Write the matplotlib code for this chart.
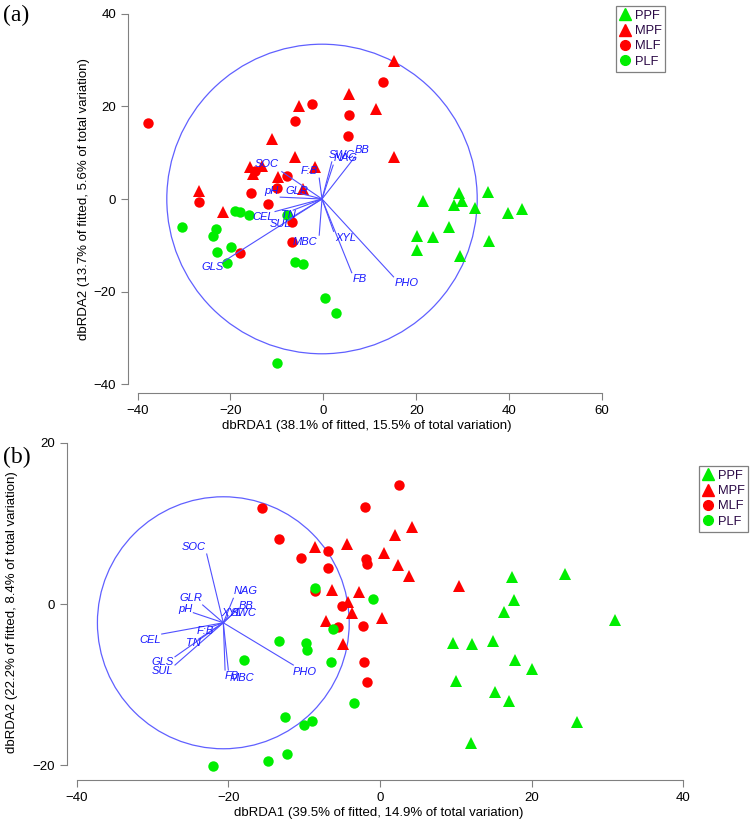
import matplotlib.pyplot as plt
import matplotlib.lines as mlines
from matplotlib.patches import Ellipse

plt.rcParams['font.family'] = ['Liberation Sans', 'DejaVu Sans']

groups = ['PPF', 'MPF', 'MLF', 'PLF']
colors = {'PPF': '#00ee00', 'MPF': '#ff0000', 'MLF': '#ff0000', 'PLF': '#00ee00'}
markers = {'PPF': '^', 'MPF': '^', 'MLF': 'o', 'PLF': 'o'}

# ---------------- panel (a) data ----------------
a_ppf_x = [21.4, 29.1, 28.0, 29.9, 32.7, 35.4, 39.7, 42.8, 20.1, 23.5, 27.1, 20.1, 35.7, 29.4]
a_ppf_y = [-0.4, 1.2, -1.3, -0.4, -2.0, 1.6, -3.1, -2.2, -8.0, -8.3, -6.1, -10.9, -9.0, -12.4]
a_mpf_x = [5.6, -5.2, 11.3, -11.1, -6.2, -15.8, -13.3, -15.1, -9.8, -1.9, -26.7, -21.5, -4.3, 15.1, 15.3]
a_mpf_y = [22.7, 20.1, 19.4, 12.9, 9.1, 6.8, 7.1, 5.5, 4.8, 7.0, 1.7, -2.9, 2.1, 29.8, 9.1]
a_mlf_x = [-37.7, 12.8, -2.5, -6.1, 5.5, 5.2, -14.8, -7.9, -10.0, -15.6, -12.0, -26.8, -6.8, -6.8, -17.9]
a_mlf_y = [16.3, 25.3, 20.4, 16.9, 18.1, 13.7, 6.1, 5.0, 2.4, 1.2, -1.1, -0.6, -5.0, -9.3, -11.6]
a_plf_x = [-19.0, -17.9, -16.1, -7.9, -30.4, -23.2, -23.7, -19.9, -23.0, -20.8, -6.1, -4.3, 0.4, 2.7, -10.0]
a_plf_y = [-2.5, -2.9, -3.5, -3.5, -6.0, -6.5, -7.9, -10.3, -11.4, -13.9, -13.5, -14.1, -21.4, -24.7, -35.3]

a_vec_names = ['SOC', 'F:B', 'SWC', 'NAG', 'BB', 'pH', 'GLR', 'CEL', 'TN', 'SUL', 'GLS', 'MBC', 'XYL', 'FB', 'PHO']
a_vec_x = [-8.95, -0.9, 1.8, 2.1, 6.8, -9.3, -5.0, -10.4, -6.5, -7.2, -21.5, -0.9, 2.2, 6.1, 15.1]
a_vec_y = [5.9, 4.5, 8.0, 7.3, 9.1, 0.4, 1.2, -2.7, -2.4, -4.2, -13.5, -7.8, -7.0, -15.9, -16.8]
a_lab_x = [-12.1, -3.1, 4.0, 4.7, 8.3, -11.1, -5.7, -12.9, -7.5, -9.3, -23.9, -3.9, 4.7, 7.9, 17.9]
a_lab_y = [7.5, 6.1, 9.5, 8.8, 10.6, 1.7, 1.7, -3.8, -3.5, -5.4, -14.6, -9.2, -8.5, -17.3, -18.1]
a_origin = (-0.3, 0.0)
a_radius = (33.4, 33.4)

# ---------------- panel (b) data ----------------
b_ppf_x = [24.39, 17.44, 17.71, 16.35, 30.98, 9.66, 12.17, 14.86, 17.80, 20.00, 10.02, 15.16, 17.07, 25.93, 11.96]
b_ppf_y = [3.73, 3.39, 0.50, -0.96, -1.99, -4.81, -4.97, -4.56, -6.95, -8.07, -9.56, -10.97, -12.05, -14.70, -17.23]
b_mpf_x = [4.26, 2.02, -8.57, -4.39, 0.49, 2.33, 3.86, 10.45, -6.29, -2.73, -4.18, -3.73, -7.12, 0.26, -4.84]
b_mpf_y = [9.53, 8.54, 7.11, 7.42, 6.37, 4.84, 3.51, 2.23, 1.74, 1.53, 0.21, -1.08, -2.11, -1.71, -4.97]
b_mlf_x = [2.47, -2.02, -10.42, -6.90, -6.82, -1.81, -1.67, -8.57, -4.97, -5.50, -2.20, -2.11, -1.67, -15.52, -13.32]
b_mlf_y = [14.78, 12.09, 5.68, 6.59, 4.44, 5.59, 4.97, 1.65, -0.21, -2.82, -2.73, -7.17, -9.72, 11.97, 8.04]
b_plf_x = [-8.57, -0.88, -6.16, -9.80, -9.66, -6.50, -3.39, -9.98, -9.00, -13.32, -17.89, -12.52, -14.73, -12.30, -22.06]
b_plf_y = [1.95, 0.58, -3.15, -4.88, -5.71, -7.25, -12.33, -15.03, -14.50, -4.60, -6.95, -14.08, -19.50, -18.67, -20.09]

b_vec_names = ['SOC', 'NAG', 'GLR', 'pH', 'BB', 'SWC', 'XYL', 'F:B', 'CEL', 'TN', 'GLS', 'SUL', 'FB', 'MBC', 'PHO']
b_vec_x = [-22.85, -19.34, -23.38, -24.61, -18.68, -19.34, -20.04, -22.19, -28.78, -23.96, -27.03, -27.03, -20.43, -20.0, -11.43]
b_vec_y = [6.21, 0.71, -0.12, -1.08, -0.54, -1.16, -1.49, -2.82, -3.73, -4.38, -6.55, -7.58, -8.20, -8.20, -7.58]
b_lab_x = [-24.61, -17.71, -24.96, -25.71, -17.71, -18.02, -19.55, -23.07, -30.32, -24.61, -28.65, -28.65, -19.55, -18.15, -9.89]
b_lab_y = [7.05, 1.57, 0.71, -0.62, -0.21, -1.08, -1.08, -3.35, -4.48, -4.88, -7.25, -8.32, -8.94, -9.23, -8.48]
b_origin = (-20.66, -2.33)
b_radius = (16.6, 15.65)


def draw_panel(ax, pts, names, vx, vy, lx, ly, origin, radius,
               xticks, yticks, xlim, ylim, xlabel, ylabel, ylab_pos):
    for g in groups:
        x, y = pts[g]
        ms = 8.5 if markers[g] == '^' else 7.5
        ax.plot(x, y, linestyle='none', marker=markers[g], color=colors[g],
                markersize=ms, markeredgewidth=0)
    ax.add_patch(Ellipse(origin, 2 * radius[0], 2 * radius[1], fill=False,
                         edgecolor='#6060ff', linewidth=0.9))
    for n, x, y, tx, ty in zip(names, vx, vy, lx, ly):
        ax.plot([origin[0], x], [origin[1], y], color='#5050ff', linewidth=0.8)
        ax.text(tx, ty, n, color='#1818ff', fontsize=8, fontstyle='italic',
                ha='center', va='center')
    ax.set_xlim(xlim)
    ax.set_ylim(ylim)
    ax.set_xticks(xticks)
    ax.set_yticks(yticks)
    ax.spines['top'].set_visible(False)
    ax.spines['right'].set_visible(False)
    for s in ['left', 'bottom']:
        ax.spines[s].set_color('#808080')
    ax.spines['left'].set_bounds(yticks[0], yticks[-1])
    ax.spines['bottom'].set_bounds(xticks[0], xticks[-1])
    ax.tick_params(direction='out', length=5, color='#808080', labelsize=9.5)
    ax.set_xlabel(xlabel, fontsize=9.5, labelpad=2)
    ax.set_ylabel(ylabel, fontsize=9.5)
    ax.yaxis.set_label_coords(*ylab_pos)


def add_legend(fig, box):
    handles = [mlines.Line2D([], [], linestyle='none', marker=markers[g], color=colors[g],
                             markersize=8 if markers[g] == '^' else 7) for g in groups]
    leg = fig.legend(handles, groups, loc='upper left', bbox_to_anchor=box,
                     frameon=True, fancybox=False, fontsize=9.3, handlelength=0.8,
                     handletextpad=0.35, borderpad=0.3, labelspacing=0.25,
                     borderaxespad=0)
    leg.get_frame().set_edgecolor('#606060')
    leg.get_frame().set_linewidth(0.9)
    for t in leg.get_texts():
        t.set_color('#2a0845')


fig = plt.figure(figsize=(7.5, 8.19), dpi=100)
W, H = 750.0, 819.0

# panel (a)
axa = fig.add_axes([128 / W, 1 - 393 / H, (605 - 128) / W, (393 - 5) / H])
draw_panel(axa,
           {'PPF': (a_ppf_x, a_ppf_y), 'MPF': (a_mpf_x, a_mpf_y),
            'MLF': (a_mlf_x, a_mlf_y), 'PLF': (a_plf_x, a_plf_y)},
           a_vec_names, a_vec_x, a_vec_y, a_lab_x, a_lab_y, a_origin, a_radius,
           [-40, -20, 0, 20, 40, 60], [-40, -20, 0, 20, 40],
           (-42.05, 60.6), (-41.86, 41.86),
           'dbRDA1 (38.1% of fitted, 15.5% of total variation)',
           'dbRDA2 (13.7% of fitted, 5.6% of total variation)',
           (-0.08, 0.5))
add_legend(fig, (616 / W, 1 - 6 / H))
fig.text(3 / W, 1 - 15 / H, '(a)', fontsize=17, family='Liberation Serif', va='center')

# panel (b)
axb = fig.add_axes([67 / W, 1 - 780 / H, (690 - 67) / W, (780 - 438) / H])
draw_panel(axb,
           {'PPF': (b_ppf_x, b_ppf_y), 'MPF': (b_mpf_x, b_mpf_y),
            'MLF': (b_mlf_x, b_mlf_y), 'PLF': (b_plf_x, b_plf_y)},
           b_vec_names, b_vec_x, b_vec_y, b_lab_x, b_lab_y, b_origin, b_radius,
           [-40, -20, 0, 20, 40], [-20, 0, 20],
           (-41.27, 40.87), (-21.86, 20.62),
           'dbRDA1 (39.5% of fitted, 14.9% of total variation)',
           'dbRDA2 (22.2% of fitted, 8.4% of total variation)',
           (-0.079, 0.49))
add_legend(fig, (699 / W, 1 - 466 / H))
fig.text(3 / W, 1 - 457 / H, '(b)', fontsize=17, family='Liberation Serif', va='center')

fig.savefig('out.png', dpi=100)
